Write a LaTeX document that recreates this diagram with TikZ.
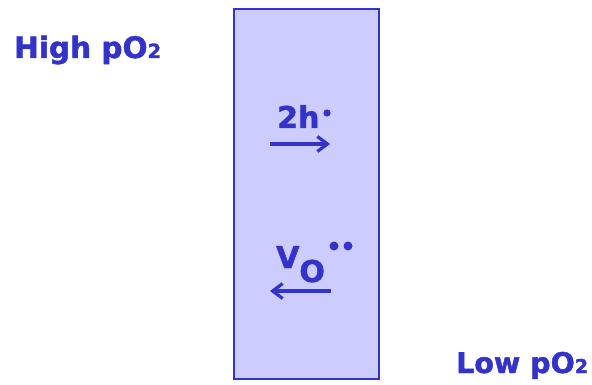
\documentclass[tikz,border=0pt]{standalone}
\usepackage{fontspec}
\setmainfont{DejaVu Sans}
\newfontfamily\gruesa[FakeBold=1.6]{DejaVu Sans Bold}
\usetikzlibrary{arrows.meta}
\definecolor{azul}{HTML}{3333CC}
\definecolor{lila}{HTML}{CCCCFF}
\tikzset{
  etiq/.style={inner sep=0pt,anchor=base west,text=azul,font=\gruesa\fontsize{29.5}{29.5}\selectfont},
  carga/.style={inner sep=0pt,anchor=base west,text=azul,font=\gruesa\fontsize{30}{30}\selectfont},
  flujo/.style={->,draw=azul,line width=3.2pt}
}
\begin{document}
\begin{tikzpicture}[x=1pt,y=-1pt,>={Straight Barb[length=10pt,width=15pt]}]
  \useasboundingbox (0,0) rectangle (592,385);
  % membrana
  \node[draw=azul,fill=lila,line width=1.8pt,minimum width=145pt,minimum height=370pt,inner sep=0pt,anchor=north west] (barra) at (233,8) {};
  % presiones
  \node[etiq] (alta) at (14,58) {High pO{\fontsize{19.5}{19.5}\selectfont 2}};
  \node[etiq,font=\gruesa\fontsize{28.5}{28.5}\selectfont] (baja) at (456,373) {Low pO{\fontsize{19}{19}\selectfont 2}};
  % huecos
  \node[carga] (huecos) at (277,128) {2h};
  \fill[azul] (327,113) circle (3.6pt);
  \coordinate (h1) at (270,144);
  \coordinate (h2) at (330,144);
  \draw[flujo] (h1) -- (h2);
  % vacantes
  \node[carga] (vac) at (276,268) {V\raisebox{-14pt}{O}};
  \fill[azul] (334,246) circle (4.5pt) (348,246) circle (4.5pt);
  \coordinate (v1) at (331,291);
  \coordinate (v2) at (270,291);
  \draw[flujo] (v1) -- (v2);
\end{tikzpicture}
\end{document}
